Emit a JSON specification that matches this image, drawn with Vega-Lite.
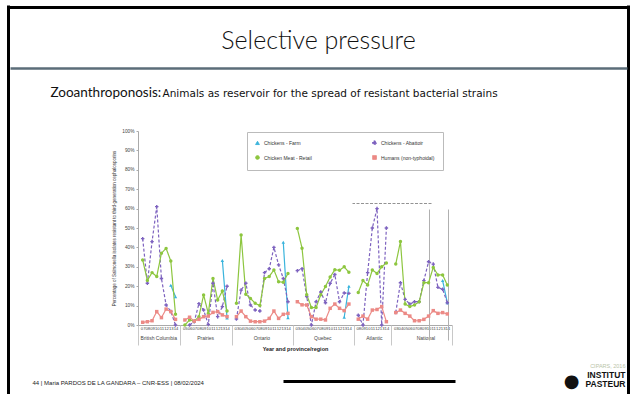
{
  "$schema": "https://vega.github.io/schema/vega-lite/v6.json",
  "background": "white",
  "autosize": {"type": "none"},
  "padding": {"left": 138, "top": 131, "right": 183, "bottom": 69},
  "width": 314,
  "height": 194,
  "config": {
    "font": "Liberation Sans",
    "view": {"stroke": null},
    "axis": {"grid": false, "titleFontWeight": "normal"},
    "legend": {
      "orient": "none", "legendX": 109, "legendY": 1, "columns": 2, "title": null,
      "labelFontSize": 5, "labelColor": "#333", "symbolSize": 14, "symbolStrokeWidth": 1,
      "columnPadding": 58, "rowPadding": 6, "padding": 8, "strokeColor": "#bbb", "labelLimit": 120
    }
  },
  "data": {"values": [
    {"k":"BC|13","r":"BC","s":"Chickens - Farm","v":20.5},
    {"k":"BC|14","r":"BC","s":"Chickens - Farm","v":14.6},
    {"k":"BC|07","r":"BC","s":"Chickens - Abattoir","v":44.5},
    {"k":"BC|08","r":"BC","s":"Chickens - Abattoir","v":21.5},
    {"k":"BC|09","r":"BC","s":"Chickens - Abattoir","v":43},
    {"k":"BC|10","r":"BC","s":"Chickens - Abattoir","v":61},
    {"k":"BC|11","r":"BC","s":"Chickens - Abattoir","v":24},
    {"k":"BC|12","r":"BC","s":"Chickens - Abattoir","v":10.3},
    {"k":"BC|13","r":"BC","s":"Chickens - Abattoir","v":7},
    {"k":"BC|14","r":"BC","s":"Chickens - Abattoir","v":0},
    {"k":"BC|07","r":"BC","s":"Chicken Meat - Retail","v":33.5},
    {"k":"BC|08","r":"BC","s":"Chicken Meat - Retail","v":23},
    {"k":"BC|09","r":"BC","s":"Chicken Meat - Retail","v":27},
    {"k":"BC|10","r":"BC","s":"Chicken Meat - Retail","v":25},
    {"k":"BC|11","r":"BC","s":"Chicken Meat - Retail","v":37},
    {"k":"BC|12","r":"BC","s":"Chicken Meat - Retail","v":39.5},
    {"k":"BC|13","r":"BC","s":"Chicken Meat - Retail","v":33},
    {"k":"BC|14","r":"BC","s":"Chicken Meat - Retail","v":5.5},
    {"k":"BC|07","r":"BC","s":"Humans (non-typhoidal)","v":1.4},
    {"k":"BC|08","r":"BC","s":"Humans (non-typhoidal)","v":1.7},
    {"k":"BC|09","r":"BC","s":"Humans (non-typhoidal)","v":2.2},
    {"k":"BC|10","r":"BC","s":"Humans (non-typhoidal)","v":6.9},
    {"k":"BC|11","r":"BC","s":"Humans (non-typhoidal)","v":3.8},
    {"k":"BC|12","r":"BC","s":"Humans (non-typhoidal)","v":8.2},
    {"k":"BC|13","r":"BC","s":"Humans (non-typhoidal)","v":6.9},
    {"k":"BC|14","r":"BC","s":"Humans (non-typhoidal)","v":2.9},
    {"k":"PR|13","r":"PR","s":"Chickens - Farm","v":33.3},
    {"k":"PR|14","r":"PR","s":"Chickens - Farm","v":3.6},
    {"k":"PR|06","r":"PR","s":"Chickens - Abattoir","v":0},
    {"k":"PR|07","r":"PR","s":"Chickens - Abattoir","v":1.7},
    {"k":"PR|08","r":"PR","s":"Chickens - Abattoir","v":11},
    {"k":"PR|09","r":"PR","s":"Chickens - Abattoir","v":7.7},
    {"k":"PR|10","r":"PR","s":"Chickens - Abattoir","v":0.3},
    {"k":"PR|11","r":"PR","s":"Chickens - Abattoir","v":21.5},
    {"k":"PR|12","r":"PR","s":"Chickens - Abattoir","v":4.3},
    {"k":"PR|13","r":"PR","s":"Chickens - Abattoir","v":9.5},
    {"k":"PR|14","r":"PR","s":"Chickens - Abattoir","v":20},
    {"k":"PR|05","r":"PR","s":"Chicken Meat - Retail","v":0},
    {"k":"PR|06","r":"PR","s":"Chicken Meat - Retail","v":2.6},
    {"k":"PR|07","r":"PR","s":"Chicken Meat - Retail","v":2},
    {"k":"PR|08","r":"PR","s":"Chicken Meat - Retail","v":4.3},
    {"k":"PR|09","r":"PR","s":"Chicken Meat - Retail","v":15.5},
    {"k":"PR|10","r":"PR","s":"Chicken Meat - Retail","v":6},
    {"k":"PR|11","r":"PR","s":"Chicken Meat - Retail","v":24},
    {"k":"PR|12","r":"PR","s":"Chicken Meat - Retail","v":12.9},
    {"k":"PR|13","r":"PR","s":"Chicken Meat - Retail","v":17.5},
    {"k":"PR|14","r":"PR","s":"Chicken Meat - Retail","v":7.2},
    {"k":"PR|05","r":"PR","s":"Humans (non-typhoidal)","v":2.6},
    {"k":"PR|06","r":"PR","s":"Humans (non-typhoidal)","v":4},
    {"k":"PR|07","r":"PR","s":"Humans (non-typhoidal)","v":2},
    {"k":"PR|08","r":"PR","s":"Humans (non-typhoidal)","v":2.9},
    {"k":"PR|09","r":"PR","s":"Humans (non-typhoidal)","v":4.3},
    {"k":"PR|10","r":"PR","s":"Humans (non-typhoidal)","v":4.6},
    {"k":"PR|11","r":"PR","s":"Humans (non-typhoidal)","v":6.5},
    {"k":"PR|12","r":"PR","s":"Humans (non-typhoidal)","v":6.9},
    {"k":"PR|13","r":"PR","s":"Humans (non-typhoidal)","v":5.2},
    {"k":"PR|14","r":"PR","s":"Humans (non-typhoidal)","v":4.3},
    {"k":"ON|13","r":"ON","s":"Chickens - Farm","v":42.6},
    {"k":"ON|14","r":"ON","s":"Chickens - Farm","v":3.8},
    {"k":"ON|03","r":"ON","s":"Chickens - Abattoir","v":3.1},
    {"k":"ON|04","r":"ON","s":"Chickens - Abattoir","v":18},
    {"k":"ON|05","r":"ON","s":"Chickens - Abattoir","v":21.5},
    {"k":"ON|06","r":"ON","s":"Chickens - Abattoir","v":10.3},
    {"k":"ON|07","r":"ON","s":"Chickens - Abattoir","v":7.7},
    {"k":"ON|08","r":"ON","s":"Chickens - Abattoir","v":7.2},
    {"k":"ON|09","r":"ON","s":"Chickens - Abattoir","v":27},
    {"k":"ON|10","r":"ON","s":"Chickens - Abattoir","v":29},
    {"k":"ON|11","r":"ON","s":"Chickens - Abattoir","v":40},
    {"k":"ON|12","r":"ON","s":"Chickens - Abattoir","v":31},
    {"k":"ON|13","r":"ON","s":"Chickens - Abattoir","v":24},
    {"k":"ON|14","r":"ON","s":"Chickens - Abattoir","v":12},
    {"k":"ON|03","r":"ON","s":"Chicken Meat - Retail","v":11.2},
    {"k":"ON|04","r":"ON","s":"Chicken Meat - Retail","v":46.4},
    {"k":"ON|05","r":"ON","s":"Chicken Meat - Retail","v":15.8},
    {"k":"ON|06","r":"ON","s":"Chicken Meat - Retail","v":13.7},
    {"k":"ON|07","r":"ON","s":"Chicken Meat - Retail","v":11.2},
    {"k":"ON|08","r":"ON","s":"Chicken Meat - Retail","v":10},
    {"k":"ON|09","r":"ON","s":"Chicken Meat - Retail","v":24},
    {"k":"ON|10","r":"ON","s":"Chicken Meat - Retail","v":25},
    {"k":"ON|11","r":"ON","s":"Chicken Meat - Retail","v":28.4},
    {"k":"ON|12","r":"ON","s":"Chicken Meat - Retail","v":22.3},
    {"k":"ON|13","r":"ON","s":"Chicken Meat - Retail","v":22},
    {"k":"ON|14","r":"ON","s":"Chicken Meat - Retail","v":26.6},
    {"k":"ON|03","r":"ON","s":"Humans (non-typhoidal)","v":4.3},
    {"k":"ON|04","r":"ON","s":"Humans (non-typhoidal)","v":7.2},
    {"k":"ON|05","r":"ON","s":"Humans (non-typhoidal)","v":4.3},
    {"k":"ON|06","r":"ON","s":"Humans (non-typhoidal)","v":2},
    {"k":"ON|07","r":"ON","s":"Humans (non-typhoidal)","v":1.7},
    {"k":"ON|08","r":"ON","s":"Humans (non-typhoidal)","v":1.7},
    {"k":"ON|09","r":"ON","s":"Humans (non-typhoidal)","v":2},
    {"k":"ON|10","r":"ON","s":"Humans (non-typhoidal)","v":3.4},
    {"k":"ON|11","r":"ON","s":"Humans (non-typhoidal)","v":7.2},
    {"k":"ON|12","r":"ON","s":"Humans (non-typhoidal)","v":3.4},
    {"k":"ON|13","r":"ON","s":"Humans (non-typhoidal)","v":5.5},
    {"k":"ON|14","r":"ON","s":"Humans (non-typhoidal)","v":6},
    {"k":"QC|13","r":"QC","s":"Chickens - Farm","v":4},
    {"k":"QC|14","r":"QC","s":"Chickens - Farm","v":20},
    {"k":"QC|03","r":"QC","s":"Chickens - Abattoir","v":28},
    {"k":"QC|04","r":"QC","s":"Chickens - Abattoir","v":29},
    {"k":"QC|05","r":"QC","s":"Chickens - Abattoir","v":14.7},
    {"k":"QC|06","r":"QC","s":"Chickens - Abattoir","v":0},
    {"k":"QC|07","r":"QC","s":"Chickens - Abattoir","v":12},
    {"k":"QC|08","r":"QC","s":"Chickens - Abattoir","v":17},
    {"k":"QC|09","r":"QC","s":"Chickens - Abattoir","v":11.5},
    {"k":"QC|10","r":"QC","s":"Chickens - Abattoir","v":21.5},
    {"k":"QC|11","r":"QC","s":"Chickens - Abattoir","v":26},
    {"k":"QC|12","r":"QC","s":"Chickens - Abattoir","v":12},
    {"k":"QC|13","r":"QC","s":"Chickens - Abattoir","v":16.5},
    {"k":"QC|14","r":"QC","s":"Chickens - Abattoir","v":16.3},
    {"k":"QC|03","r":"QC","s":"Chicken Meat - Retail","v":49.8},
    {"k":"QC|04","r":"QC","s":"Chicken Meat - Retail","v":39.6},
    {"k":"QC|05","r":"QC","s":"Chicken Meat - Retail","v":15.6},
    {"k":"QC|06","r":"QC","s":"Chicken Meat - Retail","v":9},
    {"k":"QC|07","r":"QC","s":"Chicken Meat - Retail","v":9},
    {"k":"QC|08","r":"QC","s":"Chicken Meat - Retail","v":15.6},
    {"k":"QC|09","r":"QC","s":"Chicken Meat - Retail","v":19.9},
    {"k":"QC|10","r":"QC","s":"Chicken Meat - Retail","v":24.7},
    {"k":"QC|11","r":"QC","s":"Chicken Meat - Retail","v":28.5},
    {"k":"QC|12","r":"QC","s":"Chicken Meat - Retail","v":28.2},
    {"k":"QC|13","r":"QC","s":"Chicken Meat - Retail","v":30},
    {"k":"QC|14","r":"QC","s":"Chicken Meat - Retail","v":27.2},
    {"k":"QC|03","r":"QC","s":"Humans (non-typhoidal)","v":12},
    {"k":"QC|04","r":"QC","s":"Humans (non-typhoidal)","v":10.4},
    {"k":"QC|05","r":"QC","s":"Humans (non-typhoidal)","v":10.3},
    {"k":"QC|06","r":"QC","s":"Humans (non-typhoidal)","v":4.3},
    {"k":"QC|07","r":"QC","s":"Humans (non-typhoidal)","v":3},
    {"k":"QC|08","r":"QC","s":"Humans (non-typhoidal)","v":3},
    {"k":"QC|09","r":"QC","s":"Humans (non-typhoidal)","v":2.6},
    {"k":"QC|10","r":"QC","s":"Humans (non-typhoidal)","v":8.6},
    {"k":"QC|11","r":"QC","s":"Humans (non-typhoidal)","v":10.8},
    {"k":"QC|12","r":"QC","s":"Humans (non-typhoidal)","v":8.6},
    {"k":"QC|13","r":"QC","s":"Humans (non-typhoidal)","v":7.4},
    {"k":"QC|14","r":"QC","s":"Humans (non-typhoidal)","v":10.8},
    {"k":"AT|08","r":"AT","s":"Chickens - Abattoir","v":5},
    {"k":"AT|09","r":"AT","s":"Chickens - Abattoir","v":0},
    {"k":"AT|10","r":"AT","s":"Chickens - Abattoir","v":27},
    {"k":"AT|11","r":"AT","s":"Chickens - Abattoir","v":50},
    {"k":"AT|12","r":"AT","s":"Chickens - Abattoir","v":60},
    {"k":"AT|13","r":"AT","s":"Chickens - Abattoir","v":0},
    {"k":"AT|14","r":"AT","s":"Chickens - Abattoir","v":50},
    {"k":"AT|08","r":"AT","s":"Chicken Meat - Retail","v":16.7},
    {"k":"AT|09","r":"AT","s":"Chicken Meat - Retail","v":22.9},
    {"k":"AT|10","r":"AT","s":"Chicken Meat - Retail","v":20.6},
    {"k":"AT|11","r":"AT","s":"Chicken Meat - Retail","v":28.4},
    {"k":"AT|12","r":"AT","s":"Chicken Meat - Retail","v":26.6},
    {"k":"AT|13","r":"AT","s":"Chicken Meat - Retail","v":30},
    {"k":"AT|14","r":"AT","s":"Chicken Meat - Retail","v":32},
    {"k":"AT|08","r":"AT","s":"Humans (non-typhoidal)","v":3},
    {"k":"AT|09","r":"AT","s":"Humans (non-typhoidal)","v":4.6},
    {"k":"AT|10","r":"AT","s":"Humans (non-typhoidal)","v":3},
    {"k":"AT|11","r":"AT","s":"Humans (non-typhoidal)","v":7.7},
    {"k":"AT|12","r":"AT","s":"Humans (non-typhoidal)","v":8},
    {"k":"AT|13","r":"AT","s":"Humans (non-typhoidal)","v":9.5},
    {"k":"AT|14","r":"AT","s":"Humans (non-typhoidal)","v":1.7},
    {"k":"NA|13","r":"NA","s":"Chickens - Farm","v":22.9},
    {"k":"NA|14","r":"NA","s":"Chickens - Farm","v":11.5},
    {"k":"NA|03","r":"NA","s":"Chickens - Abattoir","v":6.4},
    {"k":"NA|04","r":"NA","s":"Chickens - Abattoir","v":21.8},
    {"k":"NA|05","r":"NA","s":"Chickens - Abattoir","v":13.2},
    {"k":"NA|06","r":"NA","s":"Chickens - Abattoir","v":10.8},
    {"k":"NA|07","r":"NA","s":"Chickens - Abattoir","v":12},
    {"k":"NA|08","r":"NA","s":"Chickens - Abattoir","v":12},
    {"k":"NA|09","r":"NA","s":"Chickens - Abattoir","v":22.9},
    {"k":"NA|10","r":"NA","s":"Chickens - Abattoir","v":32.6},
    {"k":"NA|11","r":"NA","s":"Chickens - Abattoir","v":31.4},
    {"k":"NA|12","r":"NA","s":"Chickens - Abattoir","v":19.4},
    {"k":"NA|13","r":"NA","s":"Chickens - Abattoir","v":18.4},
    {"k":"NA|14","r":"NA","s":"Chickens - Abattoir","v":11.5},
    {"k":"NA|03","r":"NA","s":"Chicken Meat - Retail","v":31.4},
    {"k":"NA|04","r":"NA","s":"Chicken Meat - Retail","v":43},
    {"k":"NA|05","r":"NA","s":"Chicken Meat - Retail","v":10.8},
    {"k":"NA|06","r":"NA","s":"Chicken Meat - Retail","v":9.5},
    {"k":"NA|07","r":"NA","s":"Chicken Meat - Retail","v":10.3},
    {"k":"NA|08","r":"NA","s":"Chicken Meat - Retail","v":12},
    {"k":"NA|09","r":"NA","s":"Chicken Meat - Retail","v":21.8},
    {"k":"NA|10","r":"NA","s":"Chicken Meat - Retail","v":21.8},
    {"k":"NA|11","r":"NA","s":"Chicken Meat - Retail","v":29.7},
    {"k":"NA|12","r":"NA","s":"Chicken Meat - Retail","v":25.8},
    {"k":"NA|13","r":"NA","s":"Chicken Meat - Retail","v":25.8},
    {"k":"NA|14","r":"NA","s":"Chicken Meat - Retail","v":20.6},
    {"k":"NA|03","r":"NA","s":"Humans (non-typhoidal)","v":6.4},
    {"k":"NA|04","r":"NA","s":"Humans (non-typhoidal)","v":7.7},
    {"k":"NA|05","r":"NA","s":"Humans (non-typhoidal)","v":6},
    {"k":"NA|06","r":"NA","s":"Humans (non-typhoidal)","v":4.6},
    {"k":"NA|07","r":"NA","s":"Humans (non-typhoidal)","v":2.2},
    {"k":"NA|08","r":"NA","s":"Humans (non-typhoidal)","v":2.2},
    {"k":"NA|09","r":"NA","s":"Humans (non-typhoidal)","v":2.9},
    {"k":"NA|10","r":"NA","s":"Humans (non-typhoidal)","v":4.6},
    {"k":"NA|11","r":"NA","s":"Humans (non-typhoidal)","v":7.4},
    {"k":"NA|12","r":"NA","s":"Humans (non-typhoidal)","v":6},
    {"k":"NA|13","r":"NA","s":"Humans (non-typhoidal)","v":6.4},
    {"k":"NA|14","r":"NA","s":"Humans (non-typhoidal)","v":5.7}
  ]},
  "resolve": {"axis": {"x": "independent", "y": "independent"}},
  "layer": [
    {
      "mark": {"type": "line", "strokeWidth": 1.2},
      "encoding": {
        "x": {"field": "k", "type": "ordinal", "sort": null,
              "scale": {"type": "point", "padding": 0, "domain": ["s","BC|07","BC|08","BC|09","BC|10","BC|11","BC|12","BC|13","BC|14","g1","PR|05","PR|06","PR|07","PR|08","PR|09","PR|10","PR|11","PR|12","PR|13","PR|14","g2","ON|03","ON|04","ON|05","ON|06","ON|07","ON|08","ON|09","ON|10","ON|11","ON|12","ON|13","ON|14","g3","QC|03","QC|04","QC|05","QC|06","QC|07","QC|08","QC|09","QC|10","QC|11","QC|12","QC|13","QC|14","g4","AT|08","AT|09","AT|10","AT|11","AT|12","AT|13","AT|14","g5","NA|03","NA|04","NA|05","NA|06","NA|07","NA|08","NA|09","NA|10","NA|11","NA|12","NA|13","NA|14","e"]},
              "axis": {"orient": "bottom", "title": null, "labelExpr": "length(datum.value) > 3 ? slice(datum.value, 3) : ''", "labelFontSize": 4.2, "labelAngle": 0, "labelPadding": 1.5, "ticks": false, "domainColor": "#aaa", "labelOverlap": false, "labelColor": "#444", "labelFlush": false}},
        "y": {"field": "v", "type": "quantitative", "scale": {"domain": [0, 100]},
              "axis": {"orient": "left", "values": [0,10,20,30,40,50,60,70,80,90,100], "labelExpr": "datum.value + '%'", "title": "Percentage of Salmonella isolates resistant to third-generation cephalosporins", "titleFontSize": 4.5, "titleFontWeight": "normal", "titleColor": "#333", "titlePadding": 5, "labelFontSize": 4.8, "labelColor": "#444", "tickSize": 2, "domainColor": "#aaa", "tickColor": "#aaa"}},
        "color": {"field": "s", "type": "nominal",
                  "scale": {"domain": ["Chickens - Farm", "Chicken Meat - Retail", "Chickens - Abattoir", "Humans (non-typhoidal)"], "range": ["#3ab4dc", "#8dc63f", "#7d62bf", "#ec8a86"]}},
        "strokeDash": {"field": "s", "type": "nominal",
                  "scale": {"domain": ["Chickens - Farm", "Chicken Meat - Retail", "Chickens - Abattoir", "Humans (non-typhoidal)"], "range": [[1,0],[1,0],[3,2],[1,0]]}},
        "detail": {"field": "r"}
      }
    },
    {
      "mark": {"type": "point", "filled": true, "size": 12, "opacity": 1},
      "encoding": {
        "x": {"field": "k", "type": "ordinal", "axis": null},
        "y": {"field": "v", "type": "quantitative", "axis": null},
        "color": {"field": "s", "type": "nominal"},
        "shape": {"field": "s", "type": "nominal",
                  "scale": {"domain": ["Chickens - Farm", "Chicken Meat - Retail", "Chickens - Abattoir", "Humans (non-typhoidal)"], "range": ["triangle-up", "circle", "cross", "square"]}}
      }
    },
    {
      "data": {"values": []},
      "mark": "point",
      "encoding": {
        "x": {"field": "k", "type": "ordinal",
              "axis": {"orient": "bottom", "values": ["BC|10","PR|09","ON|08","QC|08","AT|11","NA|09"], "labelExpr": "datum.value == 'BC|10' ? 'British Columbia' : datum.value == 'PR|09' ? 'Prairies' : datum.value == 'ON|08' ? 'Ontario' : datum.value == 'QC|08' ? 'Quebec' : datum.value == 'AT|11' ? 'Atlantic' : 'National'",
                       "labelFontSize": 5, "labelColor": "#444", "labelPadding": 10, "labelOffset": 1.5, "labelAngle": 0, "ticks": false, "domain": false, "labelOverlap": false,
                       "title": "Year and province/region", "titleFontSize": 5.5, "titleFontWeight": "bold", "titleColor": "#222", "titleX": 157, "titleY": 23, "titleAlign": "center", "titleBaseline": "middle"}},
        "y": {"field": "v", "type": "quantitative",
              "axis": {"orient": "left", "offset": -489, "values": [100], "tickOffset": -63, "tickSize": 617, "tickWidth": 2.5, "tickColor": "#5b6d79", "labels": false, "domain": false,
                       "title": "Selective pressure", "titleFont": "Lato", "titleFontSize": 25, "titleFontWeight": 300, "titleColor": "#111", "titleAngle": 0, "titleX": -309, "titleY": -83, "titleAlign": "center", "titleBaseline": "alphabetic"}}
      }
    },
    {
      "data": {"values": []},
      "mark": "point",
      "encoding": {
        "x": {"field": "k", "type": "ordinal",
              "axis": {"orient": "bottom", "values": ["s","g1","g2","g3","g4","g5","e"], "labels": false, "domain": false, "tickSize": 20, "tickColor": "#c8c8c8", "tickWidth": 1,
                       "title": "Zooanthroponosis:", "titleFont": "Lato", "titleFontSize": 13.5, "titleFontWeight": "normal", "titleColor": "#111", "titleX": -88, "titleY": -229, "titleAlign": "left", "titleBaseline": "alphabetic"}},
        "y": {"field": "v", "type": "quantitative",
              "axis": {"orient": "left", "offset": -317, "values": [0], "tickOffset": 56, "tickSize": 172, "tickWidth": 3, "tickColor": "#000", "labels": false, "domain": false,
                       "title": "Animals as reservoir for the spread of resistant bacterial strains", "titleFont": "DejaVu Sans", "titleFontSize": 10.5, "titleFontWeight": "normal", "titleColor": "#111", "titleAngle": 0, "titleX": -293, "titleY": -35, "titleAlign": "left", "titleBaseline": "alphabetic"}}
      }
    },
    {
      "data": {"values": []},
      "mark": "point",
      "encoding": {
        "x": {"field": "k", "type": "ordinal",
              "axis": {"orient": "top", "offset": -263, "values": ["s"], "tickOffset": -130, "tickSize": 389, "tickWidth": 3, "tickColor": "#000", "labels": false, "domain": false,
                       "title": "44 | Maria PARDOS DE LA GANDARA – CNR-ESS | 08/02/2024", "titleFontSize": 6, "titleFontWeight": "normal", "titleColor": "#222", "titleX": -106, "titleY": -12, "titleAlign": "left", "titleBaseline": "middle"}},
        "y": {"field": "v", "type": "quantitative",
              "axis": {"orient": "left", "offset": -490, "values": [100], "tickOffset": -124, "tickSize": 621, "tickWidth": 3, "tickColor": "#000", "labels": false, "domain": false,
                       "title": "CIPARS, 2016", "titleFontSize": 5.5, "titleFontWeight": "normal", "titleColor": "#b9c4a8", "titleAngle": 0, "titleX": -3, "titleY": 234, "titleAlign": "right", "titleBaseline": "middle"}}
      }
    },
    {
      "data": {"values": []},
      "mark": "point",
      "encoding": {
        "x": {"field": "k", "type": "ordinal",
              "axis": {"orient": "top", "offset": -263, "values": ["e"], "tickOffset": 176, "tickSize": 389, "tickWidth": 3, "tickColor": "#000", "labels": false, "domain": false,
                       "title": ["INSTITUT", "PASTEUR"], "titleFontSize": 8.5, "titleFontWeight": "bold", "titleColor": "#111", "titleLineHeight": 9, "titleX": 487, "titleY": -24, "titleAlign": "right", "titleBaseline": "top"}},
        "y": {"field": "v", "type": "quantitative",
              "axis": {"orient": "left", "values": [], "labels": false, "domain": false, "ticks": false,
                       "title": "●", "titleFont": "DejaVu Sans", "titleFontSize": 18, "titleFontWeight": "normal", "titleColor": "#111", "titleAngle": 0, "titleX": 433, "titleY": 250, "titleAlign": "center", "titleBaseline": "middle"}}
      }
    },
    {
      "data": {"values": []},
      "mark": "point",
      "encoding": {
        "x": {"field": "k", "type": "ordinal",
              "axis": {"orient": "top", "offset": -209, "values": ["NA|10", "NA|14"], "tickOffset": 0.7, "tickSize": 131, "tickWidth": 1, "tickColor": "#b0b0b0", "labels": false, "domain": false, "title": null}},
        "y": {"field": "v", "type": "quantitative",
              "axis": {"orient": "left", "offset": -293, "values": [62.9], "tickSize": 79, "tickWidth": 0.8, "tickDash": [3, 1.5], "tickColor": "#777", "labels": false, "domain": false, "title": null}}
      }
    }
  ]
}
